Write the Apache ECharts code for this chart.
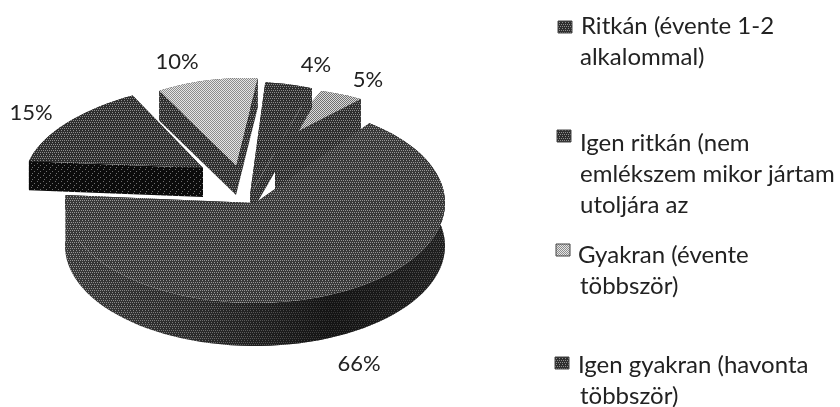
<!DOCTYPE html>
<html>
<head>
<meta charset="utf-8">
<style>
  html, body { margin: 0; padding: 0; background: #fff; }
  #chart { width: 840px; height: 407px; }
</style>
<script src="https://cdn.jsdelivr.net/npm/echarts@6/dist/echarts.min.js"></script>
</head>
<body>
<div id="chart"></div>
<script>
// adatok
const sliceValues = [66, 15, 10, 4, 5];
const legendLabels = [
  ['Ritkán (évente 1-2', 'alkalommal)'],
  ['Igen ritkán (nem', 'emlékszem mikor jártam', 'utoljára az'],
  ['Gyakran (évente', 'többször)'],
  ['Igen gyakran (havonta', 'többször)']
];

// layout: each slice has its own apex + radius because of the exploded perspective
const START_DEG = 37;
const RX = 190, RY = 100;
const sliceLayout = [
  { ax: 255, ay: 203, sx: 1, sy: 1, kx: 0, depth: 43 },
  { ax: 203, ay: 168, sx: 0.93, sy: 0.85, kx: -0.3, depth: 29 },
  { ax: 236, ay: 165, sx: 0.85, sy: 0.87, kx: -0.1, depth: 30 },
  { ax: 250, ay: 195, sx: 1, sy: 1.13, kx: 0, depth: 20 },
  { ax: 275, ay: 143, sx: 0.75, sy: 0.55, kx: 0, depth: 50 }
];
const labelPos = [[359, 364], [31, 113], [177, 62], [316, 65], [368, 80]];
const legendPos = [
  { mx: 558, my: 21, tx: 581, ty: 26 },
  { mx: 557, my: 130, tx: 580, ty: 143 },
  { mx: 556, my: 244, tx: 578, ty: 255 },
  { mx: 555, my: 357, tx: 578, ty: 365 }
];
const drawOrder = [4, 3, 2, 0, 1];

// halftone tile, the scan has a coarse raster
function tile(dark, light, rows) {
  const c = document.createElement('canvas');
  c.width = rows[0].length;
  c.height = rows.length;
  const ctx = c.getContext('2d');
  rows.forEach((row, y) => {
    for (let x = 0; x < row.length; x++) {
      ctx.fillStyle = row[x] === '#' ? dark : light;
      ctx.fillRect(x, y, 1, 1);
    }
  });
  return { image: c, repeat: 'repeat' };
}
const gridRows = ['#.#.#.', '######', '.#.#.#', '######', '#.##.#', '######'];
const sparseRows = ['######', '#.####', '######', '####.#', '######', '##.###'];
const lightRows = ['#.#.#.', '.#.#.#', '#.#.#.', '.#.#.#'];
const mainTop = tile('#383838', '#969696', gridRows);
const darkTop = tile('#2e2e2e', '#8c8c8c', gridRows);
const darkSide = tile('#0c0c0c', '#707070', sparseRows);
const lightTop = tile('#8c8c8c', '#e6e6e6', lightRows);
const midTop = tile('#707070', '#dcdcdc', lightRows);
const sliceFills = [
  { top: mainTop, side: mainTop },
  { top: darkTop, side: darkSide },
  { top: lightTop, side: darkTop },
  { top: darkTop, side: darkTop },
  { top: midTop, side: darkTop }
];
// the main wall darkens toward the lower right
const wallShade = {
  type: 'linear', x: 0, y: 0, x2: 1, y2: 0,
  colorStops: [
    { offset: 0, color: 'rgba(0,0,0,0)' },
    { offset: 0.35, color: 'rgba(0,0,0,0.25)' },
    { offset: 0.7, color: 'rgba(0,0,0,0.65)' },
    { offset: 1, color: 'rgba(0,0,0,0.45)' }
  ]
};

const total = sliceValues.reduce((a, b) => a + b, 0);
const starts = [];
sliceValues.reduce((acc, v, i) => { starts[i] = acc; return acc + v; }, 0);

function outerArc(i) {
  const l = sliceLayout[i];
  const a0 = START_DEG + starts[i] / total * 360;
  const a1 = a0 + sliceValues[i] / total * 360;
  const pts = [];
  const steps = Math.max(4, Math.round((a1 - a0) / 3));
  for (let s = 0; s <= steps; s++) {
    const a = (a0 + (a1 - a0) * s / steps) * Math.PI / 180;
    const dy = -Math.cos(a) * RY * l.sy;
    pts.push([l.ax + Math.sin(a) * RX * l.sx + l.kx * dy, l.ay + dy]);
  }
  return pts;
}

function down(p, depth) {
  return [p[0], p[1] + depth];
}

function renderSlice(params, api) {
  const i = api.value(0);
  const l = sliceLayout[i];
  const arc = outerArc(i);
  const apex = [l.ax, l.ay];
  const fill = sliceFills[i];
  const wall = arc.concat(arc.slice().reverse().map(p => down(p, l.depth)));
  const first = arc[0], last = arc[arc.length - 1];
  const children = [
    { type: 'polygon', shape: { points: [apex, first, down(first, l.depth), down(apex, l.depth)] }, style: { fill: fill.side } },
    { type: 'polygon', shape: { points: [apex, last, down(last, l.depth), down(apex, l.depth)] }, style: { fill: fill.side } },
    { type: 'polygon', shape: { points: wall }, style: { fill: fill.side } }
  ];
  if (i === 0) {
    children.push({ type: 'polygon', shape: { points: wall }, style: { fill: wallShade } });
  }
  children.push({ type: 'polygon', shape: { points: [apex].concat(arc) }, style: { fill: fill.top } });
  return { type: 'group', children };
}

function renderLabel(params, api) {
  const i = api.value(0);
  return {
    type: 'text',
    x: labelPos[i][0],
    y: labelPos[i][1],
    style: {
      text: api.value(1) + '%',
      fill: '#222',
      font: '22px Lato',
      align: 'center',
      verticalAlign: 'middle'
    }
  };
}

const legendGraphic = [];
legendLabels.forEach((lines, i) => {
  const p = legendPos[i];
  legendGraphic.push({
    type: 'rect',
    shape: { x: p.mx, y: p.my, width: 14, height: 12 },
    style: { fill: i === 2 ? lightTop : darkTop, stroke: '#444', lineWidth: 1 }
  });
  lines.forEach((text, k) => {
    legendGraphic.push({
      type: 'text',
      x: k === 0 ? p.tx : 580,
      y: p.ty + k * 31,
      style: { text, fill: '#222', font: '24px Lato', verticalAlign: 'middle' }
    });
  });
});

const slicePoints = drawOrder.map(i => [i, sliceValues[i]]);
const labelPoints = sliceValues.map((v, i) => [i, v]);

const option = {
  animation: false,
  backgroundColor: '#fff',
  graphic: legendGraphic,
  series: [
    { type: 'custom', coordinateSystem: 'none', silent: true, renderItem: renderSlice, data: slicePoints },
    { type: 'custom', coordinateSystem: 'none', silent: true, renderItem: renderLabel, data: labelPoints }
  ]
};
const myChart = echarts.init(document.getElementById('chart'));
myChart.setOption(option);
</script>
</body>
</html>
